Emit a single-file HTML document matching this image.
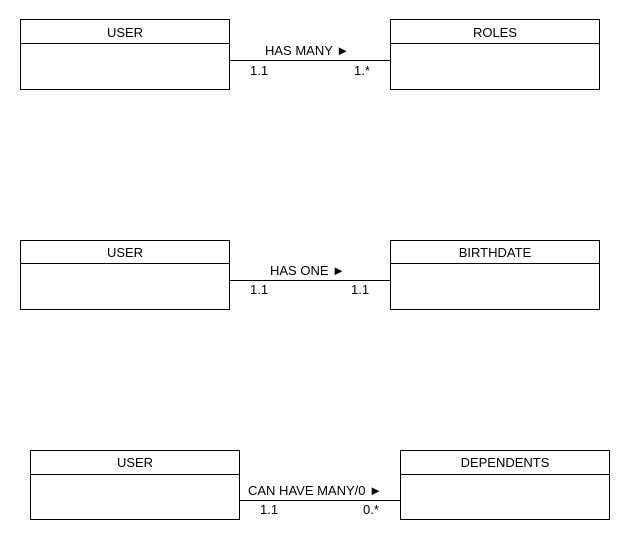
<!DOCTYPE html>
<html><head><meta charset="utf-8"><style>
html,body{margin:0;padding:0;background:#fff;}
svg{display:block;}
text{font-family:"Liberation Sans",sans-serif;font-size:13px;fill:#000;}
</style></head><body>
<svg width="630" height="550" viewBox="0 0 630 550" xmlns="http://www.w3.org/2000/svg">
<g fill="none" stroke="#000" stroke-width="1">
<rect x="20.5" y="19.5" width="209" height="70"/><line x1="20" y1="43.5" x2="230" y2="43.5"/>
<rect x="390.5" y="19.5" width="209" height="70"/><line x1="390" y1="43.5" x2="600" y2="43.5"/>
<line x1="230" y1="60.5" x2="390" y2="60.5"/>
<rect x="20.5" y="240.5" width="209" height="69"/><line x1="20" y1="263.5" x2="230" y2="263.5"/>
<rect x="390.5" y="240.5" width="209" height="69"/><line x1="390" y1="263.5" x2="600" y2="263.5"/>
<line x1="230" y1="280.5" x2="390" y2="280.5"/>
<rect x="30.5" y="450.5" width="209" height="69"/><line x1="30" y1="474.5" x2="240" y2="474.5"/>
<rect x="400.5" y="450.5" width="209" height="69"/><line x1="400" y1="474.5" x2="610" y2="474.5"/>
<line x1="240" y1="500.5" x2="400" y2="500.5"/>
</g>
<text x="125" y="37" text-anchor="middle">USER</text>
<text x="495" y="37" text-anchor="middle">ROLES</text>
<text x="265" y="55">HAS MANY ►</text>
<text x="250" y="75">1.1</text>
<text x="354" y="75">1.*</text>
<text x="125" y="257" text-anchor="middle">USER</text>
<text x="495" y="257" text-anchor="middle">BIRTHDATE</text>
<text x="270" y="275">HAS ONE ►</text>
<text x="250" y="294">1.1</text>
<text x="351" y="294">1.1</text>
<text x="135" y="467" text-anchor="middle">USER</text>
<text x="505" y="467" text-anchor="middle">DEPENDENTS</text>
<text x="248" y="495">CAN HAVE MANY/0 ►</text>
<text x="260" y="514">1.1</text>
<text x="363" y="514">0.*</text>
</svg>
</body></html>
